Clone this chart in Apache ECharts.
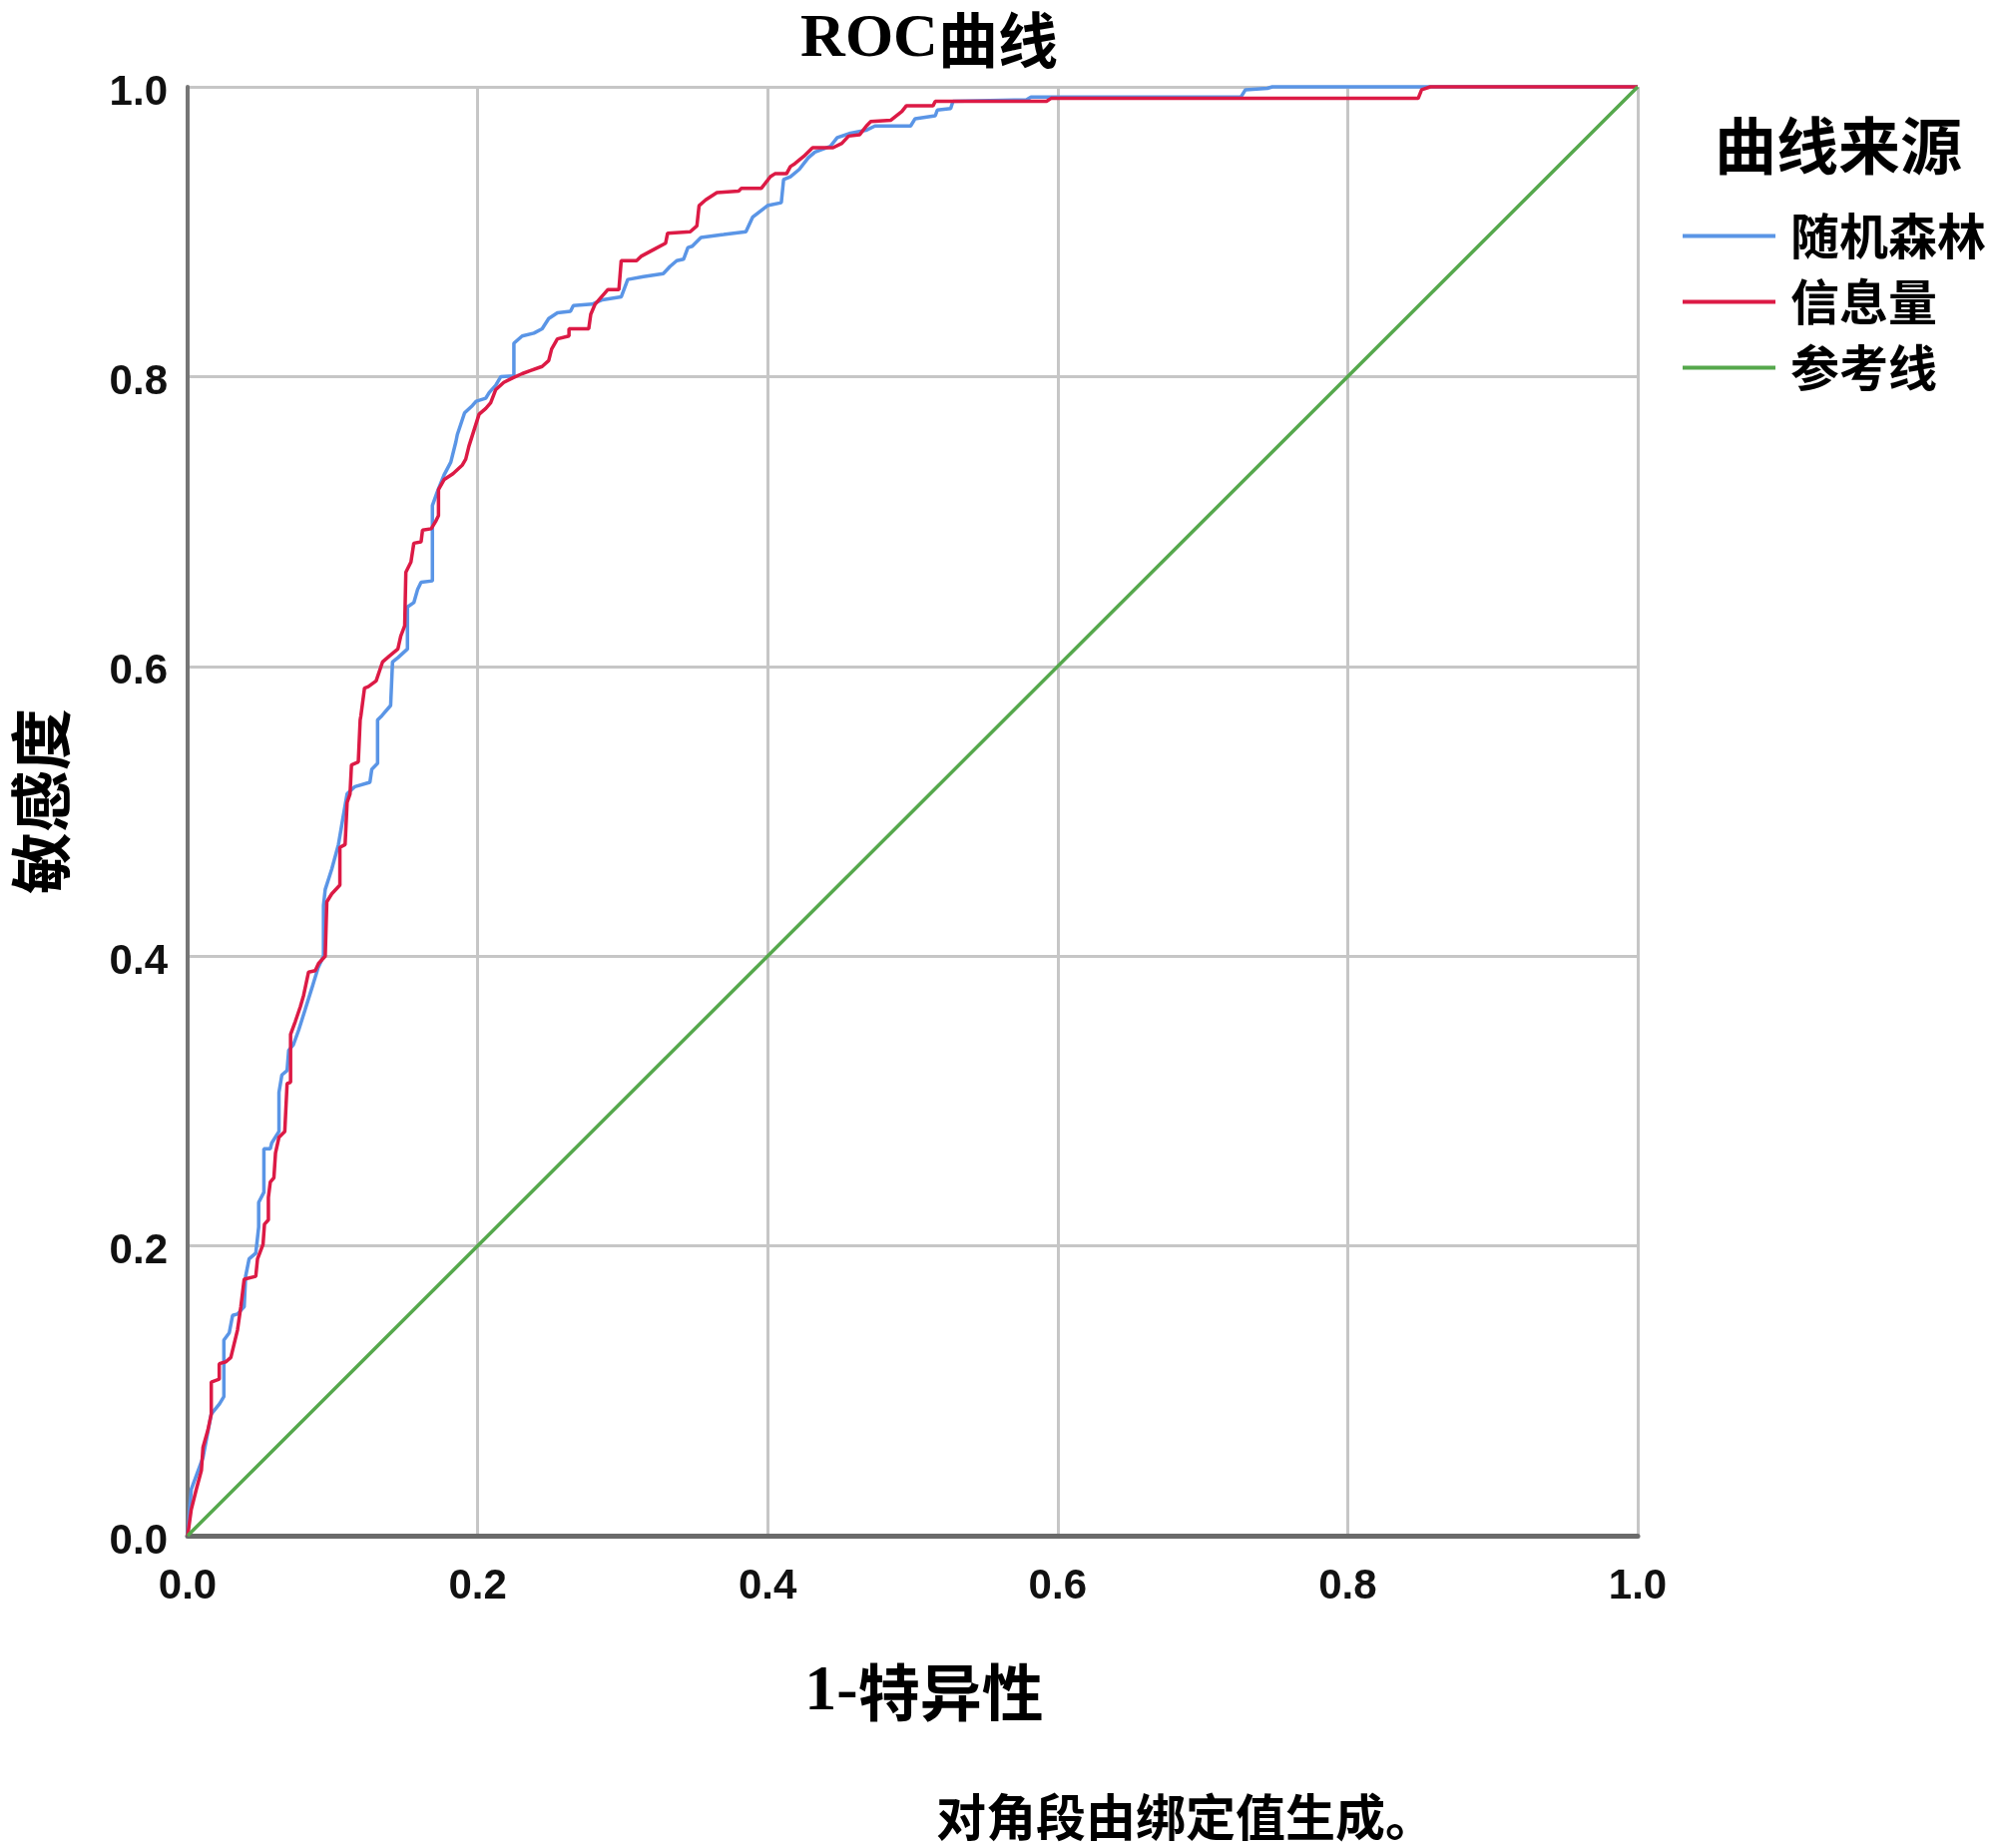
<!DOCTYPE html>
<html>
<head>
<meta charset="utf-8">
<script src="https://cdn.jsdelivr.net/npm/echarts@6/dist/echarts.min.js"></script>
<style>
html,body{margin:0;padding:0;background:#fff;}
#chart{width:2000px;height:1852px;}
</style>
</head>
<body>
<div id="chart"></div>
<script>
// ---- data ----
const seriesNames = ['随机森林', '信息量', '参考线'];
const titleLatin = 'ROC';
const titleCJK = '曲线';
const xAxisNameLatin = '1-';
const xAxisNameCJK = '特异性';
const yAxisName = '敏感度';
const legendTitle = '曲线来源';
const footnote = '对角段由绑定值生成。';

// 随机森林 ROC curve [1-specificity, sensitivity]
const rfPoints = [
  [0,0],[0.0025,0.032],[0.0106,0.054],[0.0163,0.084],[0.022,0.091],[0.025,0.096],
  [0.025,0.117],[0.025,0.135],[0.0287,0.14],[0.031,0.152],[0.0344,0.153],[0.039,0.158],
  [0.040,0.179],[0.0424,0.191],[0.047,0.195],[0.049,0.213],[0.049,0.23],[0.0503,0.231],
  [0.0526,0.237],[0.0526,0.267],[0.057,0.267],[0.058,0.271],[0.063,0.279],[0.063,0.306],
  [0.065,0.318],[0.0686,0.321],[0.0697,0.335],[0.073,0.339],[0.0766,0.349],[0.081,0.363],
  [0.0857,0.378],[0.09,0.392],[0.0937,0.4],[0.0937,0.435],[0.0949,0.446],[0.0994,0.46],
  [0.104,0.477],[0.1074,0.497],[0.11,0.512],[0.1154,0.517],[0.1257,0.52],[0.127,0.529],
  [0.131,0.533],[0.131,0.563],[0.134,0.566],[0.140,0.573],[0.1413,0.603],[0.145,0.606],
  [0.1516,0.612],[0.1516,0.641],[0.156,0.644],[0.1586,0.653],[0.161,0.658],[0.1688,0.659],
  [0.1688,0.711],[0.172,0.72],[0.1768,0.732],[0.1815,0.741],[0.185,0.755],[0.186,0.76],
  [0.191,0.775],[0.1964,0.78],[0.199,0.783],[0.2056,0.785],[0.208,0.789],[0.2125,0.794],
  [0.216,0.8],[0.225,0.8005],[0.225,0.823],[0.2307,0.828],[0.2388,0.83],[0.2445,0.833],
  [0.249,0.84],[0.255,0.844],[0.264,0.845],[0.266,0.849],[0.279,0.85],[0.286,0.853],
  [0.299,0.855],[0.3035,0.867],[0.3143,0.869],[0.328,0.871],[0.3327,0.876],[0.3373,0.880],
  [0.342,0.881],[0.345,0.889],[0.348,0.890],[0.354,0.896],[0.3696,0.898],[0.385,0.900],
  [0.3896,0.910],[0.3999,0.918],
  [0.4094,0.920],[0.411,0.936],[0.4157,0.938],[0.4218,0.943],[0.428,0.951],[0.4326,0.955],
  [0.4433,0.959],[0.448,0.965],[0.4571,0.968],[0.4678,0.970],[0.474,0.973],[0.4986,0.973],
  [0.5017,0.978],[0.5156,0.980],[0.517,0.984],[0.5262,0.985],[0.5278,0.990],[0.5785,0.991],
  [0.5816,0.993],[0.5923,0.993],[0.7264,0.993],[0.7295,0.998],[0.7446,0.999],[0.748,1.0],
  [1,1]
];

// 信息量 ROC curve [1-specificity, sensitivity]
const infoPoints = [
  [0,0],[0.0025,0.018],[0.006,0.032],[0.0095,0.045],[0.0106,0.061],[0.014,0.073],
  [0.0163,0.084],[0.0163,0.106],[0.0218,0.108],[0.0218,0.1187],[0.0264,0.12],[0.0298,0.123],
  [0.0344,0.142],[0.0367,0.158],[0.039,0.177],[0.047,0.179],[0.0482,0.191],[0.052,0.201],
  [0.053,0.215],[0.0557,0.218],[0.0557,0.2335],[0.057,0.244],[0.0595,0.247],[0.0606,0.264],
  [0.063,0.275],[0.067,0.279],[0.0686,0.312],[0.071,0.313],[0.071,0.346],[0.0743,0.355],
  [0.0777,0.365],[0.08,0.373],[0.0834,0.389],[0.088,0.39],[0.0903,0.395],[0.0949,0.4],
  [0.096,0.4375],[0.0994,0.443],[0.105,0.449],[0.105,0.475],[0.1086,0.477],[0.11,0.506],
  [0.112,0.512],[0.113,0.532],[0.1177,0.534],[0.119,0.563],[0.1195,0.566],[0.122,0.585],
  [0.1246,0.586],[0.130,0.59],[0.1344,0.603],[0.139,0.607],[0.145,0.612],[0.147,0.621],
  [0.1497,0.628],[0.1505,0.665],[0.154,0.672],[0.156,0.685],[0.161,0.686],[0.162,0.694],
  [0.168,0.695],[0.171,0.7],[0.173,0.704],[0.173,0.722],[0.177,0.729],[0.183,0.733],
  [0.1895,0.739],[0.1918,0.743],[0.194,0.752],[0.1975,0.763],[0.201,0.774],[0.2056,0.778],
  [0.209,0.782],[0.2125,0.791],[0.218,0.796],[0.224,0.799],[0.2307,0.802],[0.236,0.804],
  [0.2445,0.807],[0.249,0.811],[0.251,0.819],[0.255,0.826],[0.263,0.828],[0.263,0.833],
  [0.2766,0.833],[0.278,0.843],[0.281,0.85],[0.2897,0.860],[0.2974,0.860],[0.299,0.880],
  [0.3096,0.880],[0.3127,0.883],[0.322,0.888],[0.3296,0.892],[0.331,0.899],[0.3466,0.9],
  [0.3512,0.904],[0.3527,0.918],[0.3573,0.922],[0.365,0.927],[0.380,0.928],[0.3819,0.930],
  [0.3957,0.930],[0.4019,0.938],[0.405,0.940],[0.413,0.940],[0.4157,0.945],[0.4188,0.947],
  [0.4249,0.952],[0.431,0.958],[0.4451,0.958],[0.4512,0.961],[0.4558,0.966],[0.4635,0.967],
  [0.4681,0.973],[0.4711,0.976],[0.485,0.977],[0.4926,0.983],[0.4957,0.987],[0.5141,0.987],
  [0.5156,0.990],[0.5923,0.990],[0.5954,0.992],[0.8486,0.992],[0.851,0.998],[0.857,1.0],
  [1,1]
];

// 参考线 (diagonal)
const refPoints = [[0,0],[1,1]];

const axisMin = 0, axisMax = 1, axisStep = 0.2;

// ---- chart ----
const colors = ['#5a95e6', '#dc1a45', '#55a84c'];
const CJK = '"Noto Sans CJK SC", "Noto Sans CJK JP", sans-serif';
const SERIF = '"Liberation Serif", "Times New Roman", serif';
const NUM = '"Liberation Sans", Arial, sans-serif';

const chart = echarts.init(document.getElementById('chart'), null, {renderer: 'canvas'});

const pointSeries = [rfPoints, infoPoints, refPoints];

chart.setOption({
  animation: false,
  backgroundColor: '#ffffff',
  color: colors,
  grid: {
    left: 188, top: 87, width: 1453, height: 1452,
    containLabel: false, outerBoundsMode: 'none'
  },
  xAxis: {
    type: 'value', min: axisMin, max: axisMax, interval: axisStep,
    axisLine: {show: true, onZero: false, lineStyle: {color: '#6a6a6a', width: 5}},
    axisTick: {show: false},
    axisLabel: {
      margin: 30, fontSize: 42, fontWeight: 'bold', fontFamily: NUM, color: '#111',
      formatter: v => v.toFixed(1)
    },
    splitLine: {show: true, lineStyle: {color: '#c6c6c6', width: 3}}
  },
  yAxis: {
    type: 'value', min: axisMin, max: axisMax, interval: axisStep,
    axisLine: {show: true, onZero: false, lineStyle: {color: '#767676', width: 4}},
    axisTick: {show: false},
    axisLabel: {
      margin: 20, color: '#111',
      formatter: v => '{v|' + v.toFixed(1) + '}',
      rich: {v: {fontSize: 42, fontWeight: 'bold', fontFamily: NUM, color: '#111',
        padding: [12, 0, 0, 0]}}
    },
    splitLine: {show: true, lineStyle: {color: '#c6c6c6', width: 3}}
  },
  legend: {
    orient: 'vertical', left: 1681, top: 207, padding: 5,
    itemWidth: 93, itemHeight: 4, itemGap: 17, icon: 'rect',
    data: seriesNames,
    textStyle: {fontSize: 49, lineHeight: 48, fontFamily: CJK, fontWeight: 'bold', color: '#000',
      padding: [0, 0, 0, 10]}
  },
  series: seriesNames.map((name, i) => ({
    name: name,
    type: 'line',
    data: pointSeries[i],
    showSymbol: false,
    symbol: 'none',
    clip: false,
    lineStyle: {width: 3.5, color: colors[i]},
    itemStyle: {color: colors[i]},
    z: 3 + i
  })),
  graphic: [
    {type: 'text', x: 931, y: 40, style: {
      text: '{a|' + titleLatin + '}{b|' + titleCJK + '}',
      rich: {
        a: {fontFamily: SERIF, fontSize: 62, fontWeight: 'bold', fill: '#000'},
        b: {fontFamily: CJK, fontSize: 60, fontWeight: 'bold', fill: '#000'}
      },
      align: 'center', verticalAlign: 'middle'}},
    {type: 'text', x: 1842, y: 146, style: {text: legendTitle, font: 'bold 62px ' + CJK,
      fill: '#000', align: 'center', verticalAlign: 'middle'}},
    {type: 'text', x: 926, y: 1696, style: {
      text: '{a|' + xAxisNameLatin + '}{b|' + xAxisNameCJK + '}',
      rich: {
        a: {fontFamily: SERIF, fontSize: 64, fontWeight: 'bold', fill: '#000'},
        b: {fontFamily: CJK, fontSize: 62, fontWeight: 'bold', fill: '#000'}
      },
      align: 'center', verticalAlign: 'middle'}},
    {type: 'text', x: 41, y: 803, rotation: Math.PI / 2, style: {text: yAxisName,
      font: 'bold 62px ' + CJK, fill: '#000', align: 'center', verticalAlign: 'middle'}},
    {type: 'text', x: 938, y: 1821, style: {text: footnote, font: 'bold 50px ' + CJK,
      fill: '#000', align: 'left', verticalAlign: 'middle'}}
  ]
});
</script>
</body>
</html>
